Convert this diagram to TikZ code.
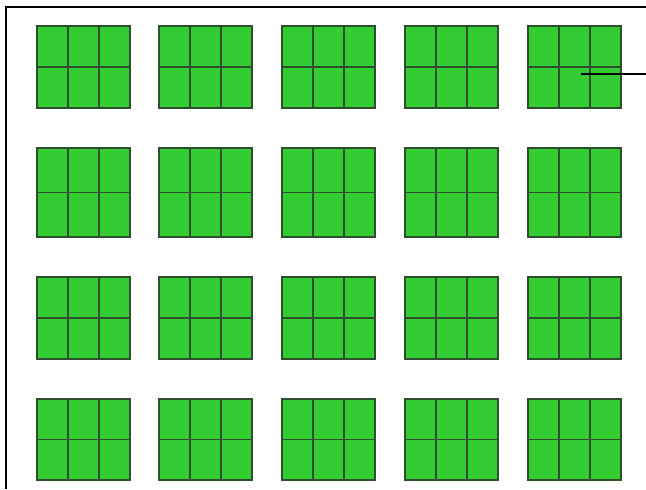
\documentclass[tikz,border=0pt]{standalone}
\usetikzlibrary{calc}
\definecolor{cellgreen}{HTML}{33CC33}
\definecolor{celledge}{HTML}{2E4E2E}
\tikzset{
  px/.style={x=0.75pt,y=-0.75pt},
  blockbox/.style={draw=celledge,fill=cellgreen,line width=0.8pt,inner sep=0pt,outer sep=0pt,rectangle},
  divider/.style={draw=celledge,line width=0.8pt},
  framerule/.style={draw=black,line width=2.2pt},
}
\begin{document}
\begin{tikzpicture}[px]
\useasboundingbox (0,0) rectangle (646,489);
% frame
\coordinate (fb) at (6,489);
\coordinate (fc) at (6,7);
\coordinate (fr) at (646,7);
\draw[framerule] (fb) -- (fc) -- (fr);
% blocks
\foreach \r/\ya/\yb in {1/26/108, 2/148/237, 3/277/359, 4/399/480}{
  \foreach \c/\xa in {1/37, 2/159, 3/282, 4/405, 5/528}{
    \pgfmathsetmacro{\xb}{\xa+93}
    \pgfmathsetmacro{\ym}{(\ya+\yb)/2}
    \pgfmathsetmacro{\xm}{(\xa+\xb)/2}
    \pgfmathsetmacro{\bh}{(\yb-\ya)*0.75}
    \node[blockbox,minimum width=69.75pt,minimum height=\bh pt] (b\r\c) at (\xm,\ym) {};
    \draw[divider] (b\r\c.west) -- (b\r\c.east);
    \draw[divider] ($(b\r\c.north west)!1/3!(b\r\c.north east)$) -- ($(b\r\c.south west)!1/3!(b\r\c.south east)$);
    \draw[divider] ($(b\r\c.north west)!2/3!(b\r\c.north east)$) -- ($(b\r\c.south west)!2/3!(b\r\c.south east)$);
  }
}
% pointer line
\coordinate (ps) at (581,74);
\coordinate (pe) at (646,74);
\draw[framerule] (ps) -- (pe);
\end{tikzpicture}
\end{document}
